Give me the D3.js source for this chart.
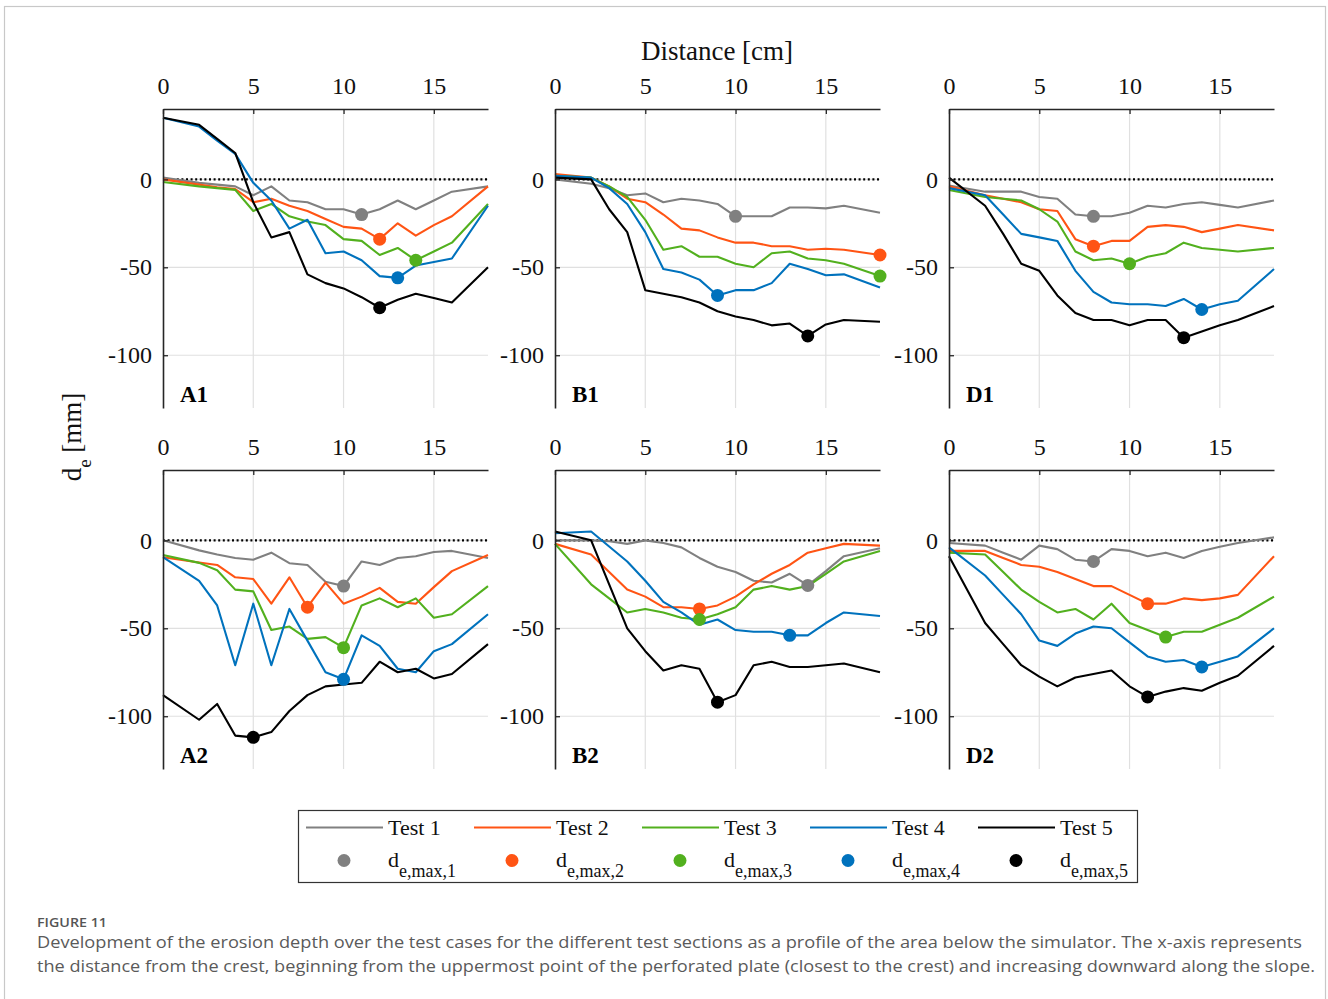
<!DOCTYPE html>
<html>
<head>
<meta charset="utf-8">
<script src="https://cdn.jsdelivr.net/npm/d3@7"></script>
<style>
  body { margin: 0; background: #fff; }
  svg { display: block; }
</style>
</head>
<body>
<svg id="fig" width="1328" height="999"></svg>
<script>
// Measurement positions along the profile [cm]
const distance = [0, 2, 3, 4, 5, 6, 7, 8, 9, 10, 11, 12, 13, 14, 15, 16, 18];

// Erosion depth d_e [mm] per section, one row per test (Test 1 .. Test 5)
const depthA1 = [
  [1, -2, -3, -4, -9, -4, -12, -13, -17, -17, -20, -17, -12, -17, -12, -7, -4],
  [0, -3, -4.5, -5.5, -13, -11, -15, -18, -22.5, -27, -28, -34, -25, -32, -26, -21, -4],
  [-1.5, -4, -5, -6, -18, -14, -21, -24, -26, -34, -35, -43, -39, -46, -41, -36, -14],
  [35, 30, 22, 14.5, -2, -12, -28, -23, -42, -41, -46, -55, -56, -49, -47, -45, -15],
  [35, 31, 23, 15, -13, -33, -30, -54, -59, -62, -67, -73, -68.5, -65, -67.5, -70, -50]
];
const depthB1 = [
  [0, -2.5, -5, -9, -8, -13, -11, -12, -14, -21, -21, -21, -16, -16, -16.5, -15, -19],
  [3, 1, -4, -11, -13, -20, -28, -29, -33, -36, -36, -38, -38, -40, -39.5, -40, -43],
  [2, 1, -4, -10, -23, -40, -38, -44, -44, -48, -50, -42, -41, -45, -46, -48, -55],
  [2, 1, -5, -14, -30, -51, -53, -57, -66, -63, -63, -59, -48, -51, -54.5, -54, -61.5],
  [1, 0, -17, -30, -63, -65, -67, -70, -75, -78, -80, -83, -82, -89, -82.5, -80, -81]
];
const depthD1 = [
  [-3.5, -7, -7, -7, -10, -11, -20, -21, -21, -19, -15, -16, -14, -13, -14.5, -16, -12],
  [-4, -9, -11, -13, -17, -18, -34, -38, -35, -35, -27, -26, -27, -30, -28, -26, -29],
  [-6, -10, -11, -12, -17, -24, -41, -46, -45, -48, -44, -42, -36, -39, -40, -41, -39],
  [-5, -9, -20, -31, -33, -35, -52, -64, -70, -71, -71, -72, -68, -74, -71, -69, -51],
  [1, -15, -31, -48, -52, -66, -76, -80, -80, -83, -80, -80, -90, -86.5, -83, -80, -72]
];
const depthA2 = [
  [0, -5.7, -8, -10, -11, -7, -13, -14, -23.5, -26, -12, -14, -10, -9, -6.6, -6, -10],
  [-9.6, -12.6, -14, -21, -22, -36, -21, -38, -24, -36, -32, -27, -35, -36, -26.6, -17.5, -8.3],
  [-8.3, -12.8, -17, -28, -29, -51, -49, -56, -55, -61, -37, -33, -38, -33, -44, -42, -26],
  [-9.6, -23, -37, -71, -36, -71, -39, -57, -75, -79, -54, -60, -73, -75, -63, -59, -42],
  [-88, -102, -93, -111, -112, -109, -97, -88, -83, -82, -81, -69, -75, -73, -78.5, -76, -59]
];
const depthB2 = [
  [0, 0, -0.5, -2, 0, -1.5, -4, -10, -15, -18, -23, -24, -19, -25.6, -17.5, -9, -4.5],
  [-2, -8, -18, -28, -32, -38, -38, -39, -37, -32, -25, -19, -14, -7, -4.5, -2, -3],
  [-2, -25, -33, -41, -39, -41, -44, -45, -42, -38, -28, -26, -28, -26, -19, -12, -6],
  [4, 5, -3.5, -12, -23, -35, -41, -48, -45, -51, -52, -52, -54, -54, -47, -41, -43],
  [5, 0, -25, -50, -63, -74, -71, -73, -92, -88, -71, -69, -72, -72, -71, -70, -75]
];
const depthD2 = [
  [-1.5, -3, -7, -11, -3, -5, -11, -12, -5, -6, -9, -7, -10, -6, -3.6, -1.5, 1.7],
  [-6, -6, -10, -14, -15, -18, -22, -26, -26, -31, -36, -36, -33, -34, -33, -31, -9],
  [-7, -8, -18, -28, -35, -41, -39, -45, -36, -47, -51, -55, -52, -52, -48, -44, -32],
  [-4, -20, -31, -42, -57, -60, -53, -49, -50, -58, -66, -69, -68, -72, -69, -66, -50],
  [-9, -47, -59, -71, -77.5, -83, -78, -76, -74, -83, -89, -86, -84, -85.5, -81, -77, -60]
];

// Position [cm] of the maximum erosion depth d_e,max for each test
const peakA1 = [11, 12, 14, 13, 12];
const peakB1 = [10, 18, 18, 9, 14];
const peakD1 = [8, 8, 10, 14, 13];
const peakA2 = [10, 8, 10, 10, 5];
const peakB2 = [14, 8, 8, 13, 9];
const peakD2 = [8, 11, 12, 14, 11];

const sections = ["A1", "B1", "D1", "A2", "B2", "D2"];
const sectionDepths = [depthA1, depthB1, depthD1, depthA2, depthB2, depthD2];
const sectionPeaks = [peakA1, peakB1, peakD1, peakA2, peakB2, peakD2];

const testNames = ["Test 1", "Test 2", "Test 3", "Test 4", "Test 5"];
const peakNames = ["e,max,1", "e,max,2", "e,max,3", "e,max,4", "e,max,5"];
const testColors = ["#808080", "#ff5414", "#52b01e", "#0072bd", "#000000"];

const xTicks = [0, 5, 10, 15];
const yTicks = [-100, -50, 0];

// ---------------- layout ----------------
const svg = d3.select("#fig");
const serif = "'Liberation Serif', 'Times New Roman', serif";
const panelW = 325, panelH = 299;
const colX = [163, 555, 949];
const rowY = [109, 470];
const axisColor = "#262626";

// figure frame
svg.append("rect")
  .attr("x", 4.5).attr("y", 6.5)
  .attr("width", 1321).attr("height", 1010)
  .attr("fill", "none").attr("stroke", "#c8c8c8").attr("stroke-width", 1.2);

const x = d3.scaleLinear().domain([0, 18]).range([0, panelW]);
const y = d3.scaleLinear().domain([-130, 40]).range([panelH, 0]);

const line = d3.line()
  .x(d => x(d[0]))
  .y(d => y(d[1]));

sections.forEach((name, i) => {
  const g = svg.append("g")
    .attr("transform", `translate(${colX[i % 3]},${rowY[Math.floor(i / 3)]})`);
  const depths = sectionDepths[i];
  const peaks = sectionPeaks[i];

  // grid
  g.append("g").selectAll("line").data(xTicks.filter(t => t > 0)).join("line")
    .attr("x1", d => x(d)).attr("x2", d => x(d))
    .attr("y1", 0).attr("y2", panelH)
    .attr("stroke", "#e0e0e0").attr("stroke-width", 1.2);
  g.append("g").selectAll("line").data(yTicks).join("line")
    .attr("x1", 0).attr("x2", panelW)
    .attr("y1", d => y(d)).attr("y2", d => y(d))
    .attr("stroke", "#e0e0e0").attr("stroke-width", 1.2);

  // reference level d_e = 0
  g.append("line")
    .attr("x1", x(0)).attr("x2", x(18))
    .attr("y1", y(0)).attr("y2", y(0))
    .attr("stroke", "#000").attr("stroke-width", 2.2)
    .attr("stroke-dasharray", "2,2.6");

  // profiles
  depths.forEach((vals, k) => {
    g.append("path")
      .datum(distance.map((d, j) => [d, vals[j]]))
      .attr("d", line)
      .attr("fill", "none")
      .attr("stroke", testColors[k])
      .attr("stroke-width", 2.1)
      .attr("stroke-linejoin", "round");
  });

  // maximum erosion depth markers
  peaks.forEach((px, k) => {
    const v = depths[k][distance.indexOf(px)];
    g.append("circle")
      .attr("cx", x(px)).attr("cy", y(v)).attr("r", 6.5)
      .attr("fill", testColors[k]);
  });

  // axes
  const top = g.append("g")
    .call(d3.axisTop(x).tickValues(xTicks).tickSize(-5).tickSizeOuter(0).tickPadding(15)
      .tickFormat(d => String(d)));
  const left = g.append("g")
    .call(d3.axisLeft(y).tickValues(yTicks).tickSize(-5).tickSizeOuter(0).tickPadding(11)
      .tickFormat(d => String(d)));
  [top, left].forEach(a => {
    a.attr("font-family", serif).attr("font-size", 24).attr("color", axisColor);
    a.select(".domain").attr("stroke-width", 1.6);
    a.selectAll(".tick line").attr("stroke-width", 1.3);
    a.selectAll("text").attr("fill", "#111");
  });

  // section label
  g.append("text")
    .attr("x", 17).attr("y", 293)
    .attr("font-family", serif).attr("font-size", 23).attr("font-weight", "bold")
    .attr("fill", "#000")
    .text(name);
});

// shared axis titles
svg.append("text")
  .attr("x", 717).attr("y", 60)
  .attr("text-anchor", "middle")
  .attr("font-family", serif).attr("font-size", 27).attr("fill", "#111")
  .text("Distance [cm]");

const yl = svg.append("text")
  .attr("transform", "translate(81,437) rotate(-90)")
  .attr("text-anchor", "middle")
  .attr("font-family", serif).attr("font-size", 27).attr("fill", "#111");
yl.append("tspan").text("d");
yl.append("tspan").attr("dy", 10).attr("font-size", 19).text("e");
yl.append("tspan").attr("dy", -10).text(" [mm]");

// legend
const lg = svg.append("g");
lg.append("rect")
  .attr("x", 298.5).attr("y", 810.5).attr("width", 839).attr("height", 72)
  .attr("fill", "#fff").attr("stroke", "#333").attr("stroke-width", 1.2);
testNames.forEach((t, k) => {
  const ox = 168 * k;
  lg.append("line")
    .attr("x1", 306 + ox).attr("x2", 383 + ox)
    .attr("y1", 827.5).attr("y2", 827.5)
    .attr("stroke", testColors[k]).attr("stroke-width", 2.1);
  lg.append("text")
    .attr("x", 388 + ox).attr("y", 835)
    .attr("font-family", serif).attr("font-size", 22).attr("fill", "#111")
    .text(t);
  lg.append("circle")
    .attr("cx", 344 + ox).attr("cy", 860.5).attr("r", 6.5)
    .attr("fill", testColors[k]);
  const dt = lg.append("text")
    .attr("x", 388 + ox).attr("y", 867)
    .attr("font-family", serif).attr("font-size", 22).attr("fill", "#111");
  dt.append("tspan").text("d");
  dt.append("tspan").attr("dy", 10).attr("font-size", 18).text(peakNames[k]);
});

// caption
const sans = "'Open Sans', 'Noto Sans', sans-serif";
svg.append("text")
  .attr("x", 37).attr("y", 927)
  .attr("font-family", sans).attr("font-size", 12.5).attr("font-weight", 600)
  .attr("fill", "#555").attr("textLength", 70).attr("lengthAdjust", "spacingAndGlyphs")
  .text("FIGURE 11");
svg.append("text")
  .attr("x", 37).attr("y", 948)
  .attr("font-family", sans).attr("font-size", 17).attr("fill", "#5a5a5a")
  .attr("textLength", 1265).attr("lengthAdjust", "spacingAndGlyphs")
  .text("Development of the erosion depth over the test cases for the different test sections as a profile of the area below the simulator. The x-axis represents");
svg.append("text")
  .attr("x", 37).attr("y", 972)
  .attr("font-family", sans).attr("font-size", 17).attr("fill", "#5a5a5a")
  .attr("textLength", 1278).attr("lengthAdjust", "spacingAndGlyphs")
  .text("the distance from the crest, beginning from the uppermost point of the perforated plate (closest to the crest) and increasing downward along the slope.");
</script>
</body>
</html>
